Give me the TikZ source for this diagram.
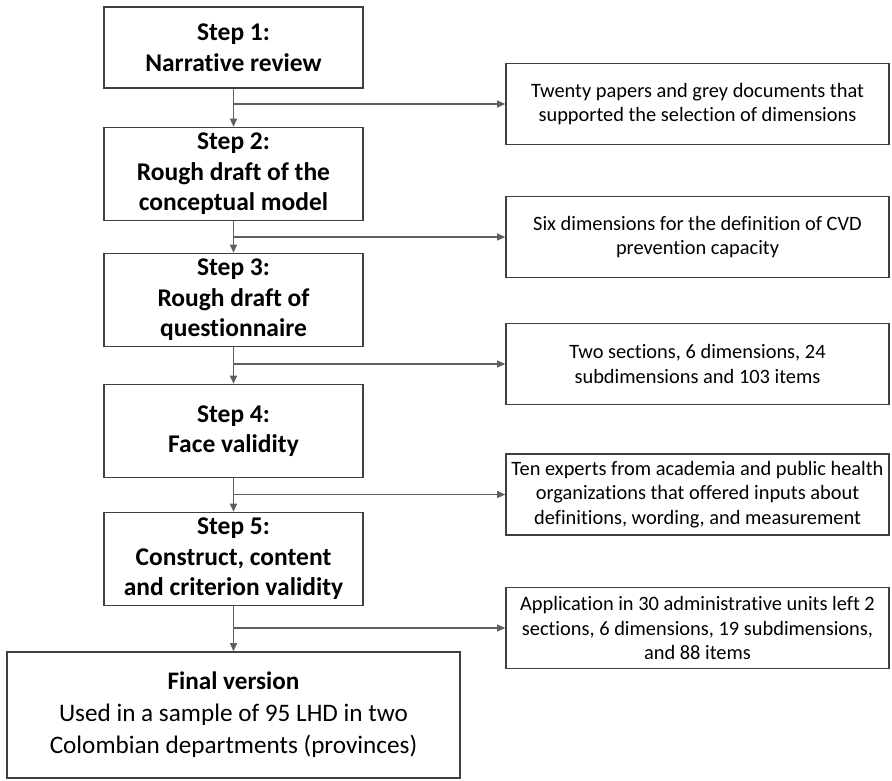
\documentclass[tikz,border=0pt]{standalone}
\usepackage{fontspec}
\setmainfont{Carlito}[Ligatures=NoCommon]
\usetikzlibrary{arrows.meta,positioning}
\definecolor{boxline}{HTML}{404040}
\definecolor{linkline}{HTML}{5F5F5F}
\tikzset{
  stepbox/.style={draw=boxline,line width=1.6pt,fill=white,align=center,
    minimum width=259pt,minimum height=93pt,inner sep=0pt,
    font=\fontsize{25.5}{30.5}\selectfont\bfseries},
  outbox/.style={draw=boxline,line width=1.6pt,fill=white,align=center,
    minimum width=383pt,minimum height=81pt,inner sep=0pt,
    font=\fontsize{20.4}{24.5}\selectfont},
  finalbox/.style={draw=boxline,line width=1.6pt,fill=white,align=center,
    minimum width=453pt,minimum height=126pt,inner sep=0pt,
    font=\fontsize{25.2}{32}\selectfont},
  arrow/.style={-{Triangle[length=8pt,width=7pt]},draw=linkline,line width=1.1pt},
  branch/.style={arrow}
}

\begin{document}
\begin{tikzpicture}[x=1pt,y=-1pt]
  \useasboundingbox (0,0) rectangle (892,780);
  % steps
  \node[stepbox,minimum height=81pt] (s1) at (233.5,47.5) {Step 1:\\Narrative review};
  \node[stepbox] (s2) at (233.5,174) {Step 2:\\Rough draft of the\\conceptual model};
  \node[stepbox] (s3) at (233.5,300) {Step 3:\\Rough draft of\\questionnaire};
  \node[stepbox] (s4) at (233.5,431) {Step 4:\\Face validity};
  \node[stepbox] (s5) at (233.5,559) {Step 5:\\Construct, content\\and criterion validity};
  \node[finalbox] (fin) at (233.5,715) {\textbf{Final version}\\Used in a sample of 95 LHD in two\\Colombian departments (provinces)};
  % outputs
  \node[outbox] (r1) at (697.5,104) {Twenty papers and grey documents that\\supported the selection of dimensions};
  \node[outbox] (r2) at (697.5,237) {Six dimensions for the definition of CVD\\prevention capacity};
  \node[outbox] (r3) at (697.5,364) {Two sections, 6 dimensions, 24\\subdimensions and 103 items};
  \node[outbox] (r4) at (697.5,494.5) {Ten experts from academia and public health\\organizations that offered inputs about\\definitions, wording, and measurement};
  \node[outbox] (r5) at (697.5,628) {Application in 30 administrative units left 2\\sections, 6 dimensions, 19 subdimensions,\\and 88 items};
  % main flow
  \draw[arrow] (s1) -- (s2);
  \draw[arrow] (s2) -- (s3);
  \draw[arrow] (s3) -- (s4);
  \draw[arrow] (s4) -- (s5);
  \draw[arrow] (s5) -- (fin);
  % side branches
  \draw[branch] (s1.south |- r1.west) -- (r1.west);
  \draw[branch] (s2.south |- r2.west) -- (r2.west);
  \draw[branch] (s3.south |- r3.west) -- (r3.west);
  \draw[branch] (s4.south |- r4.west) -- (r4.west);
  \draw[branch] (s5.south |- r5.west) -- (r5.west);
\end{tikzpicture}
\end{document}
